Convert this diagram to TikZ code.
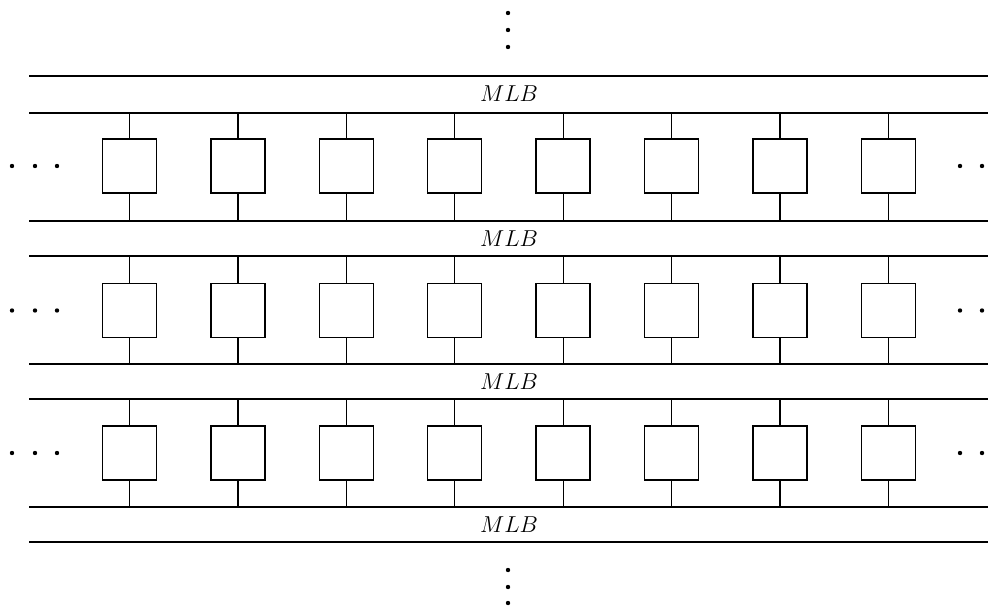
\documentclass[tikz,border=0pt]{standalone}
\begin{document}
\begin{tikzpicture}[x=0.75pt,y=-0.75pt,
  cell/.style={draw,line width=1pt,minimum width=40.5pt,minimum height=40.5pt,inner sep=0pt},
  bus/.style={line width=1.2pt},
  wire/.style={line width=0.9pt},
  lbl/.style={font=\fontsize{19}{21}\selectfont,inner sep=0pt},
  dot/.style={circle,fill,inner sep=0pt,minimum size=3.3pt}]
\useasboundingbox (0,0) rectangle (1002,609);
% buses
\foreach \i/\y in {0/76,1/113,2/221,3/256,4/364,5/399,6/507,7/542}{
  \coordinate (L\i) at (29,\y);
  \coordinate (R\i) at (988,\y);
  \draw[bus] (L\i) -- (R\i);
}
% labels
\foreach \i/\y in {1/94,2/238.5,3/382,4/525}{
  \node[lbl] (mlb\i) at (509,\y) {$MLB$};
}
% cells
\foreach \r/\y/\t/\b in {1/166/1/2,2/310.5/3/4,3/453/5/6}{
  \foreach \c in {0,...,7}{
    \pgfmathsetmacro{\xx}{129.5+108.4*\c}
    \node[cell] (b\r\c) at (\xx,\y) {};
    \coordinate (t\r\c) at (\xx,0 |- L\t);
    \coordinate (u\r\c) at (\xx,0 |- L\b);
    \draw[wire] (t\r\c) -- (b\r\c.north);
    \draw[wire] (b\r\c.south) -- (u\r\c);
  }
  \node[dot] (ld\r a) at (12,\y) {};
  \node[dot] (ld\r b) at (35,\y) {};
  \node[dot] (ld\r c) at (57,\y) {};
  \node[dot] (rd\r a) at (960,\y) {};
  \node[dot] (rd\r b) at (982,\y) {};
}
% vertical dots
\node[dot] (vt1) at (508,13) {};
\node[dot] (vt2) at (508,30) {};
\node[dot] (vt3) at (508,47) {};
\node[dot] (vb1) at (508,570) {};
\node[dot] (vb2) at (508,587) {};
\node[dot] (vb3) at (508,603) {};
\end{tikzpicture}
\end{document}
